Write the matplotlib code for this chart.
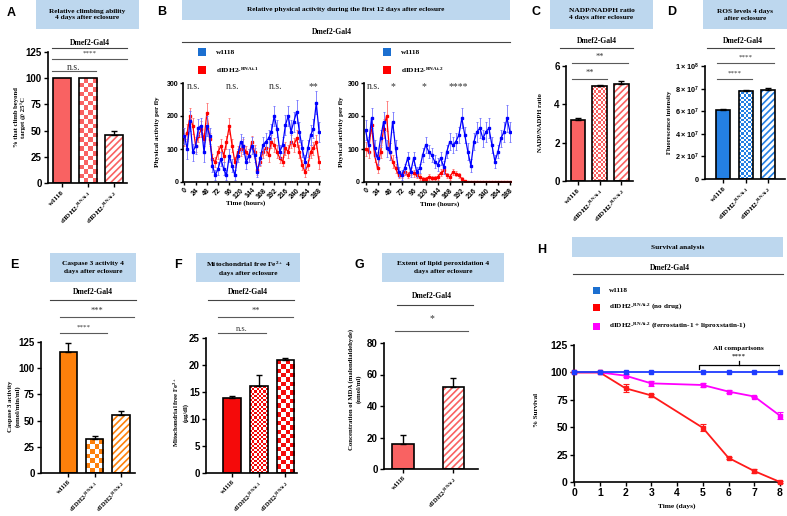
import numpy as np
import matplotlib
matplotlib.use('Agg')
import matplotlib.pyplot as plt
from matplotlib.patches import Rectangle
from matplotlib.lines import Line2D
from matplotlib.colors import ListedColormap
from matplotlib.ticker import FuncFormatter

W, H = 787, 516
SERIF = 'Liberation Serif'
SANS = 'Liberation Sans'


def sup(n):
    return 'dIDH2-$^{\\mathregular{RNAi\u2010' + n + '}}$'


# ---------------- data ----------------
lab3 = ['w1118', sup('1'), sup('2')]
lab2 = ['w1118', sup('2')]

climb = [100, 100, 46]
climb_err = [0, 0, 4]

nadp = [3.2, 4.95, 5.05]
nadp_err = [0.1, 0.05, 0.18]

ros = [6.15e7, 7.8e7, 7.9e7]
ros_err = [0.05e7, 0.08e7, 0.17e7]

casp = [115, 32, 55]
casp_err = [9, 3, 4]

iron = [13.8, 16.1, 20.9]
iron_err = [0.5, 2.0, 0.4]

mda = [16, 52]
mda_err = [5.5, 5.5]

hours = np.arange(0, 289, 6)
blue_l = [140, 100, 185, 90, 110, 165, 170, 90, 170, 140, 50, 20, 40, 70, 40, 20, 80, 50, 20, 80,
          120, 110, 60, 80, 110, 82, 31, 72, 112, 122, 132, 152, 200, 162, 92, 112, 172, 200, 152,
          183, 213, 152, 102, 62, 102, 142, 162, 240, 152]
blue_l_err = [25, 30, 30, 25, 25, 25, 25, 30, 30, 25, 20, 15, 20, 20, 20, 15, 20, 20, 15, 20,
              25, 25, 20, 20, 25, 20, 15, 20, 25, 25, 25, 25, 30, 25, 20, 25, 30, 30, 35, 30,
              35, 30, 25, 20, 25, 30, 30, 35, 30]
red_l = [130, 150, 200, 170, 110, 140, 160, 130, 210, 130, 70, 60, 90, 110, 80, 120, 170, 110, 60, 90,
         100, 110, 90, 80, 120, 92, 35, 62, 92, 102, 82, 122, 112, 92, 72, 62, 102, 92, 122, 112,
         132, 92, 51, 31, 51, 92, 102, 122, 60]
red_l_err = [20, 25, 25, 25, 20, 20, 25, 20, 30, 20, 15, 15, 20, 20, 20, 20, 25, 20, 15, 20,
             20, 20, 20, 20, 20, 20, 15, 15, 20, 20, 20, 20, 20, 20, 15, 15, 20, 20, 20, 20,
             25, 20, 15, 15, 15, 20, 20, 20, 20]
blue_r = [158, 112, 193, 102, 72, 132, 183, 102, 92, 183, 102, 31, 21, 41, 72, 31, 72, 31, 41, 82,
          112, 92, 82, 62, 52, 72, 45, 92, 122, 112, 122, 142, 193, 142, 92, 50, 122, 152, 163, 132,
          152, 163, 112, 62, 92, 132, 152, 193, 152]
blue_r_err = [30, 25, 30, 25, 20, 25, 30, 25, 25, 30, 25, 15, 15, 15, 20, 15, 20, 15, 15, 20,
              25, 20, 20, 20, 20, 20, 20, 20, 25, 25, 25, 25, 30, 25, 25, 20, 25, 30, 30, 25,
              30, 30, 25, 20, 20, 25, 30, 40, 30]
red_r = [100, 92, 172, 82, 41, 92, 162, 200, 92, 62, 41, 21, 21, 31, 21, 31, 26, 20, 15, 10,
         10, 15, 12, 12, 15, 28, 35, 20, 15, 30, 25, 20, 10, 2, 1, 1, 1, 1, 1, 1,
         1, 1, 1, 1, 1, 1, 1, 1, 1]
red_r_err = [20, 20, 25, 20, 15, 20, 30, 45, 25, 20, 15, 10, 10, 10, 10, 10, 10, 8, 8, 6,
             6, 8, 6, 6, 8, 10, 10, 8, 8, 10, 8, 8, 6, 3, 2, 2, 2, 2, 2, 2,
             2, 2, 2, 2, 2, 2, 2, 2, 2]

days = [0, 1, 2, 3, 5, 6, 7, 8]
surv_ctrl = [100, 100, 100, 100, 100, 100, 100, 100]
surv_nodrug = [100, 100, 85.5, 79, 49.5, 22, 10, 0]
surv_nodrug_err = [0, 0, 3.5, 1, 3, 1, 1.5, 0.5]
surv_drug = [100, 100, 97, 90, 88.5, 82.5, 78, 60.5]
surv_drug_err = [0, 0, 1.5, 2.5, 1.5, 1.5, 0.5, 3]

# ---------------- colours ----------------
SALMON = '#f96262'
RED = '#f50a0a'
ORANGE = '#fd800b'
BLUE_BAR = '#2480e4'
BOX = '#bdd7ee'
GREY = '#5a5a5a'

plt.rcParams.update({
    'font.family': SANS, 'font.weight': 'bold',
    'axes.linewidth': 1.2, 'hatch.linewidth': 1.2,
    'xtick.major.width': 1.0, 'ytick.major.width': 1.0,
    'xtick.major.size': 3, 'ytick.major.size': 3,
})

fig = plt.figure(figsize=(W / 100, H / 100), dpi=100)


def rect(x0, y0, x1, y1):
    return [x0 / W, 1 - y1 / H, (x1 - x0) / W, (y1 - y0) / H]


def ftext(x, y, s, size=5, **kw):
    kw.setdefault('ha', 'center')
    kw.setdefault('va', 'center')
    kw.setdefault('family', SERIF)
    kw.setdefault('weight', 'bold')
    fig.text(x / W, 1 - y / H, s, fontsize=size, **kw)


def fline(x0, x1, y, color=GREY, lw=0.8):
    fig.add_artist(Line2D([x0 / W, x1 / W], [1 - y / H, 1 - y / H], color=color, lw=lw))


def title_box(x0, y0, x1, y1, s):
    fig.add_artist(Rectangle((x0 / W, 1 - y1 / H), (x1 - x0) / W, (y1 - y0) / H,
                             facecolor=BOX, edgecolor='none'))
    ftext((x0 + x1) / 2, (y0 + y1) / 2, s, size=5.3, linespacing=1.5)


def square(x, y, color, s=7):
    fig.add_artist(Rectangle((x / W, 1 - (y + s / 2) / H), s / W, s / H,
                             facecolor=color, edgecolor='none'))


def letter(x, y, s):
    ftext(x, y, s, size=9, family=SANS)


def ylab(x, y, s, size=4.8):
    ftext(x, y, s, size=size, rotation=90, linespacing=1.4)


def sig(x0, x1, y, s, size=6, dy=6, weight='normal'):
    fline(x0, x1, y)
    ftext((x0 + x1) / 2, y - dy, s, size=size, color='#333333', weight=weight)


def style(ax, size=7):
    for s in ['top', 'right']:
        ax.spines[s].set_visible(False)
    ax.tick_params(labelsize=size, pad=1.5)


def bar_panel(box, vals, errs, kinds, color, width, xlim, ylim, yticks, labels, cell=4,
              xsize=5.2):
    ax = fig.add_axes(rect(*box))
    style(ax)
    ax.set_xlim(*xlim)
    ax.set_ylim(*ylim)
    for i, (v, e, k) in enumerate(zip(vals, errs, kinds)):
        if k == 'solid':
            ax.bar(i, v, width, color=color, edgecolor='black', lw=1.2, zorder=2)
        elif k == 'hatch':
            ax.bar(i, v, width, color='white', edgecolor=color, hatch='/////', lw=0, zorder=2)
            ax.bar(i, v, width, fill=False, edgecolor='black', lw=1.2, zorder=3)
        else:
            c = cell if k == 'check' else 2.2
            (x0p, y0p), (x1p, y1p) = ax.transData.transform([(i - width / 2, 0), (i + width / 2, v)])
            nc = max(1, int(round((x1p - x0p) / c)))
            nr = max(1, int(round((y1p - y0p) / c)))
            arr = np.add.outer(np.arange(nr), np.arange(nc)) % 2
            ax.imshow(arr, extent=(i - width / 2, i + width / 2, 0, v), origin='lower',
                      cmap=ListedColormap(['white', color]), aspect='auto',
                      interpolation='nearest', zorder=2)
            ax.bar(i, v, width, fill=False, edgecolor='black', lw=1.2, zorder=3)
        if e > 0:
            ax.errorbar(i, v, yerr=[[0], [e]], fmt='none', ecolor='black', elinewidth=1,
                        capsize=2.2, capthick=1, zorder=4)
    ax.set_xlim(*xlim)
    ax.set_ylim(*ylim)
    ax.set_yticks(yticks)
    ax.set_xticks(range(len(vals)))
    ax.set_xticklabels(labels, rotation=45, ha='right', rotation_mode='anchor',
                       family=SERIF, fontsize=xsize)
    return ax


# ---------------- A ----------------
letter(11, 13, 'A')
title_box(36, 0, 139, 29, 'Relative climbing ability\n4 days after eclosure')
ftext(90, 43, 'Dmef2-Gal4', size=5.5)
fline(52, 127, 48, color='#444444')
sig(52, 127, 59, '****', size=5)
sig(52, 96, 71, 'n.s.', size=7, dy=4)
bar_panel((48, 52, 127, 183), climb, climb_err, ['solid', 'check', 'hatch'], SALMON, 0.7,
          (-0.54, 2.5), (0, 125), [0, 25, 50, 75, 100, 125], lab3, cell=4.5)
ylab(20, 117, '% that climb beyond\ntarget @ 25\u00b0C')

# ---------------- B ----------------
letter(162, 12, 'B')
title_box(182, 0, 510, 20, 'Relative physical activity during the first 12 days after eclosure')
ftext(332, 32, 'Dmef2-Gal4', size=5.5)
fline(182, 510, 42, color='#444444')


def activity(box, red, red_err, blue, blue_err, marks):
    ax = fig.add_axes(rect(*box))
    style(ax, size=5)
    ax.errorbar(hours, red, yerr=red_err, color='#ff0000', ecolor='#ff7070', marker='s', ms=1.6,
                lw=0.9, elinewidth=0.6, capsize=1, capthick=0.6, zorder=2)
    ax.errorbar(hours, blue, yerr=blue_err, color='#0000ff', ecolor='#7070ff', marker='s', ms=1.6,
                lw=0.9, elinewidth=0.6, capsize=1, capthick=0.6, zorder=3)
    ax.set_xlim(-3, 290)
    ax.set_ylim(0, 300)
    ax.set_yticks([0, 100, 200, 300])
    ax.set_xticks(range(0, 289, 24))
    ax.set_xticklabels([str(t) for t in range(0, 289, 24)], rotation=45, ha='right',
                       rotation_mode='anchor', fontsize=5)
    ax.tick_params(length=2)
    for h, s in marks:
        ax.text(h, 290, s, ha='center', va='center', family=SERIF, weight='normal',
                fontsize=7, color='#333333', clip_on=False)
    return ax


activity((183, 83, 320, 182), red_l, red_l_err, blue_l, blue_l_err,
         [(20, 'n.s.'), (103, 'n.s.'), (195, 'n.s.'), (275, '**')])
activity((364, 83, 511, 182), red_r, red_r_err, blue_r, blue_r_err,
         [(16, 'n.s.'), (54, '*'), (117, '*'), (185, '****')])
for x0, n in [(198, '1'), (383, '2')]:
    square(x0, 52, '#1b6fd0', s=8)
    square(x0, 70, '#ff0000', s=8)
    ftext(x0 + 18, 52, 'w1118', size=5.3, ha='left')
    ftext(x0 + 18, 70, sup(n), size=5.3, ha='left')
ylab(158, 132, 'Physical activity per fly', size=5)
ylab(342, 132, 'Physical activity per fly', size=5)
ftext(246, 203, 'Time (hours)', size=5)
ftext(440, 204, 'Time (hours)', size=5)

# ---------------- C ----------------
letter(536, 12, 'C')
title_box(550, 0, 653, 29, 'NADP/NADPH ratio\n4 days after eclosure')
ftext(597, 41, 'Dmef2-Gal4', size=5.5)
fline(560, 633, 48, color='#444444')
sig(572, 628, 63, '**', size=6)
sig(572, 607, 79, '**', size=6)
bar_panel((566, 66, 633, 181), nadp, nadp_err, ['solid', 'fine', 'hatch'], SALMON, 0.67,
          (-0.55, 2.53), (0, 6), [0, 2, 4, 6], lab3)
ylab(540, 123, 'NADP/NADPH ratio')

# ---------------- D ----------------
letter(672, 12, 'D')
title_box(703, 0, 787, 29, 'ROS levels 4 days\nafter eclosure')
ftext(743, 41, 'Dmef2-Gal4', size=5.5)
fline(707, 774, 48, color='#444444')
sig(717, 774, 63, '****', size=5)
sig(717, 752, 79, '****', size=5)
axd = bar_panel((705, 66, 785, 179), ros, ros_err, ['solid', 'fine', 'hatch'], BLUE_BAR, 0.63,
                (-0.83, 2.77), (0, 1e8), [0, 2e7, 4e7, 6e7, 8e7, 1e8], lab3)


def sci(v, pos):
    if v == 0:
        return '0'
    e = int(np.floor(np.log10(v) + 1e-9))
    return r'$\mathregular{%d\times10^{%d}}$' % (round(v / 10 ** e), e)


axd.yaxis.set_major_formatter(FuncFormatter(sci))
axd.tick_params(axis='y', labelsize=5.2)
ylab(670, 122, 'Fluorescence intensity')

# ---------------- E ----------------
letter(14, 265, 'E')
title_box(50, 253, 136, 282, 'Caspase 3 activity 4\ndays after eclosure')
ftext(93, 292, 'Dmef2-Gal4', size=5.5)
fline(50, 136, 300, color='#444444')
sig(60, 134, 317, '***', size=6)
sig(60, 107, 333, '****', size=5)
bar_panel((41, 342, 135, 473), casp, casp_err, ['solid', 'check', 'hatch'], ORANGE, 0.67,
          (-1.05, 2.54), (0, 125), [0, 25, 50, 75, 100, 125], lab3, cell=4.5, xsize=4.8)
ylab(14, 406, 'Caspase 3 activity\n(nmol/min/ml)')

# ---------------- F ----------------
letter(178, 265, 'F')
title_box(196, 253, 300, 282, 'Mitochondrial free Fe$^{\\mathregular{2+}}$ 4\ndays after eclosure')
ftext(248, 292, 'Dmef2-Gal4', size=5.5)
fline(208, 294, 300, color='#444444')
sig(218, 293, 317, '**', size=6)
sig(218, 266, 333, 'n.s.', size=6, dy=4)
bar_panel((206, 338, 297, 473), iron, iron_err, ['solid', 'fine', 'check'], RED, 0.67,
          (-0.97, 2.43), (0, 25), [0, 5, 10, 15, 20, 25], lab3, cell=4.3, xsize=4.8)
ylab(180, 412, 'Mitochondrial free Fe$^{\\mathregular{2+}}$\n(\u00b5g/dl)')

# ---------------- G ----------------
letter(359, 265, 'G')
title_box(382, 253, 504, 282, 'Extent of lipid peroxidation 4\ndays after eclosure')
ftext(432, 296, 'Dmef2-Gal4', size=5.5)
fline(397, 473, 305, color='#444444')
sig(395, 468, 331, '*', size=7, dy=12)
bar_panel((384, 343, 478, 469), mda, mda_err, ['solid', 'hatch'], SALMON, 0.43,
          (-0.38, 1.49), (0, 80), [0, 20, 40, 60, 80], lab2, xsize=4.8)
ylab(355, 389, 'Concentration of MDA (malondialdehyde)\n(nmol/ml)')

# ---------------- H ----------------
letter(542, 250, 'H')
title_box(572, 237, 783, 257, 'Survival analysis')
ftext(670, 268, 'Dmef2-Gal4', size=5.5)
fline(573, 783, 274, color='#444444')
for y, c, s in [(290, '#1b6fd0', 'w1118'),
                (307, '#ff0000', sup('2') + ' (no drug)'),
                (326, '#ff00ff', sup('2') + ' (ferrostatin-1 + liproxstatin-1)')]:
    square(593, y, c, s=7)
    ftext(609, y, s, size=5.2, ha='left')

axh = fig.add_axes(rect(574, 345, 780, 482))
style(axh, size=7.5)
axh.errorbar(days, surv_drug, yerr=surv_drug_err, color='#ff00ff', marker='s', ms=2.2, lw=1.3,
             capsize=2, elinewidth=0.8, capthick=0.8, clip_on=False, zorder=2)
axh.errorbar(days, surv_nodrug, yerr=surv_nodrug_err, color='#ff1a1a', marker='s', ms=2.2, lw=1.3,
             capsize=2, elinewidth=0.8, capthick=0.8, clip_on=False, zorder=3)
axh.plot(days, surv_ctrl, color='#1f3cff', marker='s', ms=2.2, lw=1.3, clip_on=False, zorder=4)
axh.set_xlim(0, 8)
axh.set_ylim(0, 125)
axh.set_xticks(range(9))
axh.set_yticks([0, 25, 50, 75, 100, 125])
axh.plot([4.85, 4.85, 8, 8], [103, 107, 107, 103], color='black', lw=0.9)
axh.plot([6.4, 6.4], [107, 110], color='black', lw=0.9)
axh.text(6.4, 122, 'All comparisons', ha='center', va='center', family=SERIF, fontsize=5.3)
axh.text(6.4, 114.5, '****', ha='center', va='center', family=SERIF, fontsize=5, color='#333333')
ylab(537, 410, '% Survival', size=5)
ftext(677, 506, 'Time (days)', size=5.3)

fig.savefig('out.png', dpi=100, facecolor='white')
